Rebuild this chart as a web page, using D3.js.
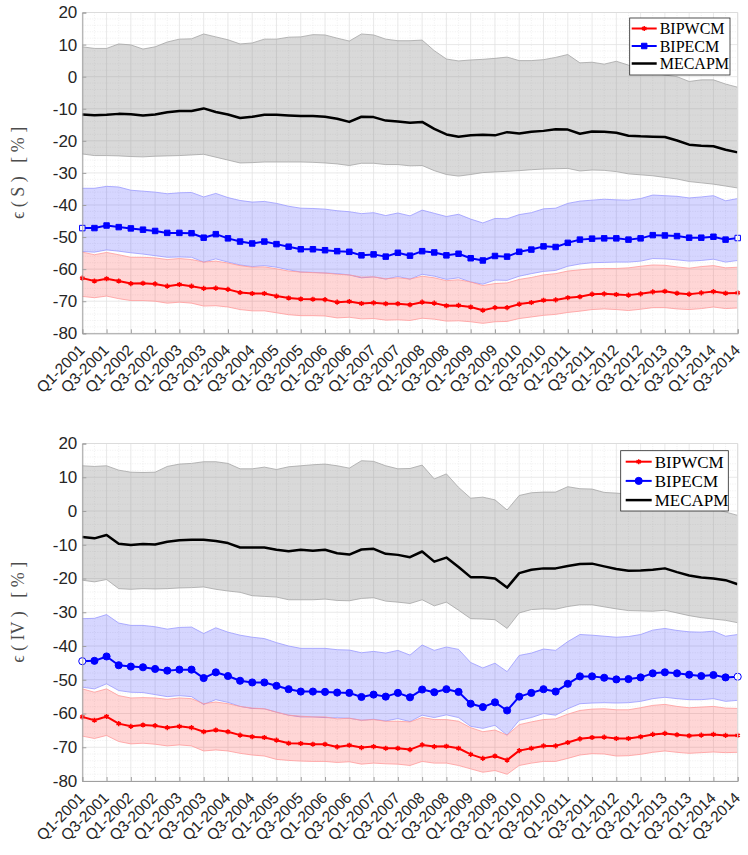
<!DOCTYPE html>
<html>
<head>
<meta charset="utf-8">
<script src="https://cdn.jsdelivr.net/npm/d3@7/dist/d3.min.js"></script>
<style>
  body { margin: 0; background: #fff; }
  svg { display: block; }
</style>
</head>
<body>
<div id="chart"></div>
<script>
// quarters Q1-2001 .. Q3-2014
const quarters = []
for (let y = 2001; y <= 2014; y++)
  for (let q = 1; q <= 4; q++)
    if (!(y === 2014 && q === 4)) quarters.push(`Q${q}-${y}`)
const xTickLabels = quarters.filter((d, i) => i % 2 === 0)
const yTicks = [-80, -70, -60, -50, -40, -30, -20, -10, 0, 10, 20]
const seriesNames = ['BIPWCM', 'BIPECM', 'MECAPM']

// panel 1 : eps(S)
const sMecapm = [-11.8,-12.0,-11.9,-11.6,-11.7,-12.1,-11.8,-11.1,-10.7,-10.7,-9.9,-11.0,-11.8,-12.9,-12.5,-11.9,-11.9,-12.1,-12.3,-12.3,-12.5,-13.1,-14.1,-12.5,-12.6,-13.7,-14.0,-14.4,-14.1,-16.3,-18.0,-18.7,-18.3,-18.1,-18.3,-17.3,-17.7,-17.2,-16.9,-16.4,-16.5,-17.8,-17.1,-17.2,-17.5,-18.4,-18.6,-18.7,-18.8,-19.9,-21.2,-21.5,-21.7,-22.8,-23.6]
const sMecapmHi = [9.3,8.8,8.8,10.2,9.9,8.6,9.3,10.8,11.7,11.8,13.3,12.4,11.5,10.2,10.5,11.7,11.7,12.3,12.4,13.1,13.0,12.0,11.1,13.3,13.0,11.7,11.2,11.2,11.4,8.1,5.5,4.9,5.2,5.4,5.7,6.1,5.0,5.0,5.3,6.0,6.9,4.3,4.5,3.9,4.8,3.6,2.0,1.2,0.5,0.0,-1.5,-1.0,-1.0,-2.3,-3.3]
const sMecapmLo = [-24.1,-24.6,-24.6,-24.7,-24.9,-25.0,-24.8,-24.7,-24.6,-24.4,-24.2,-25.1,-26.0,-26.9,-26.8,-26.6,-26.6,-26.6,-26.6,-26.7,-26.9,-27.2,-27.7,-27.0,-27.0,-27.4,-27.4,-27.8,-27.7,-29.3,-30.5,-31.0,-30.5,-29.9,-29.7,-29.5,-29.3,-29.0,-28.8,-28.7,-28.6,-29.4,-29.1,-29.2,-29.6,-30.3,-30.6,-30.9,-31.4,-31.9,-32.7,-33.1,-33.5,-34.1,-34.7]
const sBipecm = [-47.2,-47.2,-46.4,-46.9,-47.3,-47.7,-48.1,-48.7,-48.7,-48.8,-50.2,-49.1,-50.4,-51.4,-52.0,-51.4,-52.2,-53.0,-53.8,-53.8,-54.1,-54.4,-54.6,-55.7,-55.4,-56.1,-54.9,-55.8,-54.4,-54.8,-55.7,-55.2,-56.6,-57.3,-55.9,-56.1,-54.6,-53.9,-52.9,-53.1,-51.8,-50.8,-50.5,-50.4,-50.4,-50.8,-50.4,-49.4,-49.5,-49.7,-50.2,-50.2,-49.9,-50.8,-50.3]
const sBipecmHi = [-34.8,-34.8,-34.2,-34.4,-35.4,-35.7,-36.0,-36.5,-36.2,-36.1,-37.5,-36.4,-37.7,-38.6,-39.1,-38.9,-39.5,-40.4,-41.0,-41.1,-41.3,-41.8,-42.1,-42.7,-42.4,-43.3,-42.5,-43.4,-41.6,-42.6,-43.6,-42.9,-44.4,-45.6,-44.2,-44.3,-43.0,-42.4,-41.2,-41.0,-39.5,-38.8,-38.5,-38.2,-38.4,-38.5,-38.0,-36.9,-37.1,-37.3,-37.8,-37.5,-37.1,-38.7,-38.0]
const sBipecmLo = [-54.5,-54.7,-54.0,-54.4,-54.9,-55.3,-55.8,-56.3,-56.2,-56.3,-57.8,-56.8,-57.8,-58.7,-59.2,-58.9,-59.4,-60.2,-60.9,-61.0,-61.2,-61.4,-61.8,-62.7,-62.4,-63.1,-62.3,-63.1,-61.6,-62.2,-63.2,-62.7,-64.0,-64.7,-63.4,-63.5,-62.2,-61.4,-60.7,-60.4,-59.1,-58.4,-58.0,-57.9,-57.8,-57.8,-57.5,-56.7,-56.8,-57.1,-57.5,-57.3,-56.9,-57.8,-57.3]
const sBipwcm = [-62.8,-63.7,-63.0,-63.7,-64.5,-64.4,-64.6,-65.3,-64.8,-65.3,-66.0,-65.9,-66.3,-67.3,-67.6,-67.6,-68.4,-69.0,-69.3,-69.4,-69.5,-70.3,-70.1,-70.7,-70.5,-70.8,-70.8,-71.1,-70.3,-70.6,-71.4,-71.3,-71.8,-72.8,-72.0,-72.0,-70.9,-70.4,-69.7,-69.6,-68.9,-68.6,-67.8,-67.7,-67.9,-68.1,-67.7,-67.1,-66.9,-67.5,-67.8,-67.4,-67.0,-67.5,-67.4]
const sBipwcmHi = [-54.7,-55.5,-54.8,-55.5,-56.3,-56.3,-56.5,-57.0,-56.7,-57.0,-57.8,-57.5,-58.1,-58.9,-59.4,-59.3,-59.9,-60.6,-60.9,-61.1,-61.2,-61.6,-61.8,-62.5,-62.4,-63.0,-62.7,-63.1,-62.2,-62.7,-63.6,-63.3,-64.0,-65.1,-64.5,-64.3,-63.2,-62.6,-61.8,-61.4,-60.6,-60.2,-59.9,-59.8,-59.8,-59.6,-59.1,-58.7,-58.8,-59.3,-59.7,-59.2,-58.9,-59.6,-59.4]
const sBipwcmLo = [-68.5,-68.9,-68.4,-69.2,-69.8,-69.8,-70.0,-70.6,-70.3,-70.6,-71.5,-71.4,-71.8,-72.6,-73.0,-73.0,-73.6,-74.2,-74.5,-74.5,-74.6,-75.2,-75.0,-75.5,-75.4,-75.9,-75.8,-76.0,-75.3,-75.6,-76.2,-76.1,-76.4,-76.9,-76.4,-76.3,-75.4,-74.9,-74.4,-74.1,-73.5,-73.1,-72.6,-72.4,-72.6,-72.9,-72.5,-72.0,-72.0,-72.4,-72.6,-72.3,-71.8,-72.3,-72.1]

// panel 2 : eps(IV)
const ivMecapm = [-7.7,-8.1,-7.1,-9.7,-10.1,-9.8,-9.9,-9.1,-8.7,-8.5,-8.5,-8.9,-9.5,-10.8,-10.8,-10.8,-11.5,-11.9,-11.5,-11.8,-11.5,-12.5,-12.9,-11.4,-11.2,-12.7,-13.0,-13.7,-12.0,-15.0,-13.8,-16.6,-19.6,-19.6,-20.0,-22.7,-18.4,-17.4,-17.0,-17.0,-16.3,-15.7,-15.6,-16.4,-17.2,-17.7,-17.6,-17.4,-17.0,-18.1,-19.1,-19.7,-20.0,-20.5,-21.7]
const ivMecapmHi = [13.4,13.2,13.4,12.1,11.5,11.4,11.5,13.2,13.9,14.1,14.6,14.6,14.1,12.5,12.5,13.0,12.3,13.1,13.4,13.7,13.9,13.4,12.7,14.9,14.7,13.4,12.5,12.6,13.6,9.5,11.0,7.0,3.8,4.1,3.3,0.3,4.6,5.4,5.6,5.6,7.2,6.6,6.5,5.5,5.3,5.0,5.2,4.5,4.0,3.2,2.0,1.2,0.8,-0.3,-1.3]
const ivMecapmLo = [-20.5,-21.0,-20.3,-23.0,-23.2,-23.0,-23.1,-23.0,-22.8,-22.7,-22.5,-23.2,-23.7,-24.1,-25.1,-25.3,-25.5,-26.3,-26.3,-26.3,-26.1,-26.5,-26.6,-25.9,-25.7,-26.7,-27.0,-27.4,-26.3,-28.1,-27.0,-29.4,-31.9,-32.0,-32.2,-34.8,-30.2,-29.2,-29.0,-29.1,-28.3,-27.8,-27.8,-28.4,-29.0,-29.5,-29.6,-29.7,-29.4,-30.2,-31.0,-31.6,-32.0,-32.4,-33.1]
const ivBipecm = [-44.5,-44.4,-43.1,-45.7,-46.1,-46.3,-46.8,-47.3,-47.0,-47.0,-49.5,-47.8,-48.9,-50.3,-50.8,-50.8,-51.8,-52.8,-53.5,-53.5,-53.6,-53.8,-53.9,-55.1,-54.4,-55.0,-53.9,-55.2,-52.9,-53.7,-52.8,-53.6,-57.1,-58.1,-56.7,-59.1,-55.0,-53.9,-52.8,-53.5,-51.2,-49.0,-49.0,-49.4,-49.9,-49.8,-49.3,-48.1,-47.8,-48.1,-48.5,-48.9,-48.6,-49.3,-49.1]
const ivBipecmHi = [-31.9,-31.8,-30.7,-33.2,-33.9,-33.9,-34.3,-35.0,-34.5,-34.4,-36.3,-34.6,-35.9,-36.8,-37.4,-37.8,-39.0,-40.0,-40.7,-40.7,-40.7,-41.1,-41.2,-42.0,-41.6,-42.1,-41.3,-42.7,-39.7,-41.3,-40.3,-41.0,-44.9,-46.5,-45.1,-47.6,-42.8,-42.1,-40.9,-41.3,-38.7,-36.6,-36.8,-37.1,-37.4,-37.2,-36.6,-35.3,-34.8,-35.4,-35.8,-35.9,-35.6,-37.1,-36.6]
const ivBipecmLo = [-52.2,-52.7,-51.2,-53.2,-53.7,-53.8,-54.4,-55.0,-54.7,-55.0,-57.3,-55.9,-56.7,-57.9,-58.5,-58.6,-59.6,-60.5,-61.0,-61.0,-61.2,-61.3,-61.4,-62.0,-61.7,-62.2,-61.5,-62.4,-60.5,-61.2,-60.4,-61.2,-63.8,-64.4,-63.5,-66.4,-62.0,-61.2,-60.0,-60.5,-58.6,-57.1,-56.9,-56.8,-56.9,-56.8,-56.4,-55.6,-55.2,-55.6,-55.9,-55.9,-55.6,-56.4,-56.1]
const ivBipwcm = [-61.0,-62.0,-60.9,-63.0,-63.8,-63.4,-63.6,-64.2,-63.8,-64.2,-65.4,-64.9,-65.4,-66.4,-66.9,-67.1,-67.9,-68.8,-68.9,-69.1,-69.1,-69.9,-69.4,-70.1,-69.8,-70.3,-70.3,-70.7,-69.3,-69.8,-69.7,-70.3,-72.1,-73.3,-72.6,-73.8,-71.0,-70.3,-69.6,-69.6,-68.6,-67.5,-67.1,-67.0,-67.4,-67.4,-66.9,-66.2,-65.9,-66.3,-66.6,-66.4,-66.2,-66.5,-66.5]
const ivBipwcmHi = [-52.7,-53.7,-52.7,-54.7,-55.4,-55.3,-55.4,-55.8,-55.4,-55.6,-57.1,-56.6,-57.1,-57.9,-58.4,-58.6,-59.6,-60.5,-60.8,-61.0,-61.0,-61.6,-61.4,-62.0,-61.8,-62.3,-62.3,-62.5,-61.2,-61.8,-61.8,-62.3,-64.2,-65.4,-64.9,-66.4,-63.3,-62.5,-61.8,-61.6,-60.2,-59.1,-58.7,-58.6,-58.9,-58.9,-58.3,-57.6,-57.3,-57.9,-58.3,-58.1,-57.9,-58.4,-58.5]
const ivBipwcmLo = [-66.7,-67.4,-66.5,-68.3,-69.0,-68.8,-69.1,-69.6,-69.3,-69.6,-71.1,-70.8,-71.1,-71.8,-72.3,-72.6,-73.6,-73.9,-74.1,-74.2,-74.2,-74.5,-74.3,-75.0,-74.7,-74.9,-75.0,-75.4,-74.2,-74.7,-74.7,-75.4,-76.4,-77.4,-76.9,-78.0,-75.4,-74.7,-74.2,-74.2,-73.3,-72.3,-71.9,-72.0,-72.6,-72.5,-72.1,-71.5,-71.1,-71.5,-71.8,-71.6,-71.4,-71.6,-71.5]

const W = 748, H = 855
const left = 82.3, right = 737.7
const axisColor = '#262626'
const gridColor = '#e3e3e3'

const svg = d3.select('#chart').append('svg')
  .attr('width', W)
  .attr('height', H)
  .attr('font-family', '"DejaVu Sans", sans-serif')

const x = d3.scalePoint().domain(quarters).range([left, right])

const drawPanel = (cfg) => {
  const y = d3.scaleLinear().domain([-80, 20]).range([cfg.bottom, cfg.top])
  const g = svg.append('g')

  // minor grid (dotted)
  const minorY = d3.range(-80, 20.01, 2).filter(v => v % 10 !== 0)
  g.append('g').selectAll('line').data(minorY).enter().append('line')
    .attr('x1', left).attr('x2', right)
    .attr('y1', d => y(d)).attr('y2', d => y(d))
    .attr('stroke', '#e6e6e6').attr('stroke-width', 0.6)
    .attr('stroke-dasharray', '1,1.5')
  g.append('g').selectAll('line').data(quarters.filter((d, i) => i % 2 === 1)).enter().append('line')
    .attr('x1', d => x(d)).attr('x2', d => x(d))
    .attr('y1', cfg.top).attr('y2', cfg.bottom)
    .attr('stroke', '#e6e6e6').attr('stroke-width', 0.6)
    .attr('stroke-dasharray', '1,1.5')

  // major grid
  g.append('g').selectAll('line').data(yTicks).enter().append('line')
    .attr('x1', left).attr('x2', right)
    .attr('y1', d => y(d)).attr('y2', d => y(d))
    .attr('stroke', gridColor).attr('stroke-width', 0.8)
  g.append('g').selectAll('line').data(xTickLabels).enter().append('line')
    .attr('x1', d => x(d)).attr('x2', d => x(d))
    .attr('y1', cfg.top).attr('y2', cfg.bottom)
    .attr('stroke', gridColor).attr('stroke-width', 0.8)

  // bands
  const area = (lo, hi) => d3.area()
    .x((d, i) => x(quarters[i]))
    .y0((d, i) => y(lo[i]))
    .y1((d, i) => y(hi[i]))(quarters)
  const line = (vals) => d3.line()
    .x((d, i) => x(quarters[i]))
    .y(d => y(d))(vals)

  cfg.bands.forEach(b => {
    g.append('path').attr('d', area(b.lo, b.hi))
      .attr('fill', b.fill).attr('fill-opacity', b.opacity)
    g.append('path').attr('d', line(b.hi))
      .attr('fill', 'none').attr('stroke', b.edge).attr('stroke-width', 0.8)
    g.append('path').attr('d', line(b.lo))
      .attr('fill', 'none').attr('stroke', b.edge).attr('stroke-width', 0.8)
  })

  // mean lines
  cfg.lines.forEach(l => {
    g.append('path').attr('d', line(l.values))
      .attr('fill', 'none').attr('stroke', l.color)
      .attr('stroke-width', l.width).attr('stroke-linejoin', 'round')
    if (l.symbol) {
      g.append('g').selectAll('path').data(l.values).enter().append('path')
        .attr('transform', (d, i) => `translate(${x(quarters[i])},${y(d)})`)
        .attr('d', d3.symbol(l.symbol, l.size))
        .attr('fill', (d, i) => l.hollowEnds && (i === 0 || i === l.values.length - 1) ? '#fff' : l.fill)
        .attr('stroke', l.color).attr('stroke-width', l.strokeWidth)
    }
  })

  // box
  g.append('line').attr('x1', left).attr('x2', right).attr('y1', cfg.top).attr('y2', cfg.top)
    .attr('stroke', '#dcdcdc')
  g.append('line').attr('x1', right).attr('x2', right).attr('y1', cfg.top).attr('y2', cfg.bottom)
    .attr('stroke', '#dcdcdc')

  // axes
  const yAxis = g.append('g')
    .attr('transform', `translate(${left},0)`)
    .call(d3.axisLeft(y).tickValues(yTicks).tickSize(-4).tickPadding(5).tickFormat(d3.format('d')))
  yAxis.select('.domain').attr('stroke', '#a0a0a0')
  yAxis.selectAll('.tick line').attr('stroke', '#a0a0a0')
  yAxis.selectAll('.tick text').attr('fill', axisColor).attr('font-size', 17)
    .text(d => d < 0 ? '-' + Math.abs(d) : d)

  const xAxis = g.append('g')
    .attr('transform', `translate(0,${cfg.bottom})`)
    .call(d3.axisBottom(x).tickValues(xTickLabels).tickSize(-4))
  xAxis.select('.domain').attr('stroke', '#a0a0a0')
  xAxis.selectAll('.tick line').attr('stroke', '#a0a0a0')
  xAxis.selectAll('.tick text')
    .attr('fill', axisColor).attr('font-size', 15.5)
    .attr('text-anchor', 'end')
    .attr('dy', '0.35em')
    .attr('transform', 'translate(-1,14) rotate(-45)')
    .attr('y', 0).attr('x', 0)

  // y label
  svg.append('text')
    .attr('transform', `translate(24,${(cfg.top + cfg.bottom) / 2}) rotate(-90)`)
    .attr('text-anchor', 'middle')
    .attr('font-family', '"Liberation Serif", serif')
    .attr('font-size', 18)
    .attr('fill', '#4d4d4d')
    .attr('xml:space', 'preserve')
    .text(cfg.yLabel)

  // legend
  const lg = cfg.legend
  const legend = svg.append('g').attr('transform', `translate(${lg.x},${lg.y})`)
  legend.append('rect')
    .attr('width', lg.w).attr('height', lg.h)
    .attr('fill', '#fff').attr('stroke', '#262626').attr('stroke-width', 0.8)
  const entries = legend.selectAll('.legend').data(cfg.lines).enter().append('g')
    .attr('transform', (d, i) => `translate(0,${lg.first + i * lg.step})`)
  entries.append('line')
    .attr('x1', lg.lineX).attr('x2', lg.lineX + lg.lineW)
    .attr('stroke', d => d.color).attr('stroke-width', d => d.width)
  entries.filter(d => d.symbol).append('path')
    .attr('transform', `translate(${lg.lineX + lg.lineW / 2},0)`)
    .attr('d', d => d3.symbol(d.symbol, d.size)())
    .attr('fill', d => d.fill).attr('stroke', d => d.color).attr('stroke-width', d => d.strokeWidth)
  entries.append('text')
    .attr('x', lg.lineX + lg.lineW + 3)
    .attr('dy', '0.35em')
    .attr('font-family', '"Liberation Serif", serif')
    .attr('font-size', lg.fontSize)
    .attr('fill', '#000')
    .text(d => d.name)
}

const bandStyles = {
  gray: {fill: '#808080', opacity: 0.3, edge: '#a6a6a6'},
  blue: {fill: '#0000ff', opacity: 0.16, edge: '#9a9aff'},
  red: {fill: '#ff0000', opacity: 0.16, edge: '#ff9a9a'}
}

drawPanel({
  top: 12.5, bottom: 333.3,
  yLabel: '\u03f5 ( S )   [ % ]',
  bands: [
    {...bandStyles.gray, lo: sMecapmLo, hi: sMecapmHi},
    {...bandStyles.blue, lo: sBipecmLo, hi: sBipecmHi},
    {...bandStyles.red, lo: sBipwcmLo, hi: sBipwcmHi}
  ],
  lines: [
    {name: seriesNames[0], values: sBipwcm, color: '#ff0000', fill: '#ff0000', width: 2, symbol: d3.symbolAsterisk, size: 18, strokeWidth: 1.5},
    {name: seriesNames[1], values: sBipecm, color: '#0000ff', fill: '#0000ff', width: 2, symbol: d3.symbolSquare, size: 30, strokeWidth: 1, hollowEnds: true},
    {name: seriesNames[2], values: sMecapm, color: '#000', width: 2.5}
  ],
  legend: {x: 629.7, y: 18, w: 100.3, h: 57, first: 10.5, step: 17.5, lineX: 2, lineW: 25, fontSize: 16}
})

drawPanel({
  top: 443.5, bottom: 781,
  yLabel: '\u03f5 ( IV )   [ % ]',
  bands: [
    {...bandStyles.gray, lo: ivMecapmLo, hi: ivMecapmHi},
    {...bandStyles.blue, lo: ivBipecmLo, hi: ivBipecmHi},
    {...bandStyles.red, lo: ivBipwcmLo, hi: ivBipwcmHi}
  ],
  lines: [
    {name: seriesNames[0], values: ivBipwcm, color: '#ff0000', fill: '#ff0000', width: 2, symbol: d3.symbolAsterisk, size: 18, strokeWidth: 1.5},
    {name: seriesNames[1], values: ivBipecm, color: '#0000ff', fill: '#0000ff', width: 2, symbol: d3.symbolCircle, size: 40, strokeWidth: 1, hollowEnds: true},
    {name: seriesNames[2], values: ivMecapm, color: '#000', width: 2.5}
  ],
  legend: {x: 620.7, y: 450.7, w: 107.6, h: 60.3, first: 11, step: 19.2, lineX: 5, lineW: 26, fontSize: 17}
})
</script>
</body>
</html>
